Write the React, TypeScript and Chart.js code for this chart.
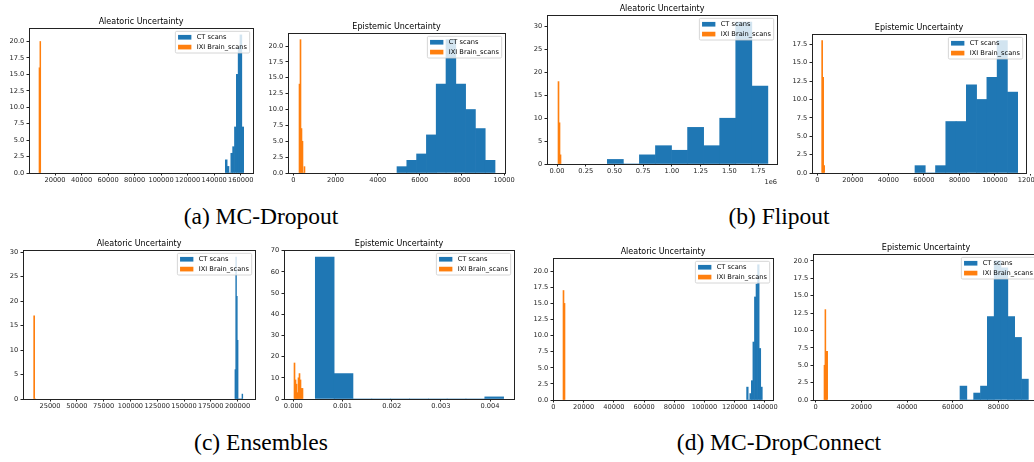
import React, { useEffect, useRef } from "react";
import { Chart, registerables } from "chart.js";

Chart.register(...registerables);

const BLUE = "#1f77b4";
const ORANGE = "#ff7f0e";
const SERIES = ["CT scans", "IXI Brain_scans"];
const TITLES = ["Aleatoric Uncertainty", "Epistemic Uncertainty"];
const CAPTIONS = ["(a) MC-Dropout", "(b) Flipout", "(c) Ensembles", "(d) MC-DropConnect"];

// ---- (a) MC-Dropout ----
const A_ALE_CT = [2, 1, 0, 3, 4, 7, 15, 19, 21, 7];
const A_ALE_CT_BINS = [148424, 1382]; // [first edge, bin width]
const A_ALE_IXI = [16, 20];
const A_ALE_IXI_BINS = [7937, 650];
const A_ALE_XTICKS = [20000, 40000, 60000, 80000, 100000, 120000, 140000, 160000];
const A_ALE_YTICKS = [0, 2.5, 5, 7.5, 10, 12.5, 15, 17.5, 20];

const A_EPI_CT = [1, 2, 3, 6, 14, 21, 14, 10, 7, 2];
const A_EPI_CT_BINS = [4917, 465];
const A_EPI_IXI = [14, 21, 7, 5, 0, 1];
const A_EPI_IXI_BINS = [269, 47];
const A_EPI_XTICKS = [0, 2000, 4000, 6000, 8000, 10000];
const A_EPI_YTICKS = [0, 2.5, 5, 7.5, 10, 12.5, 15, 17.5, 20];

// ---- (b) Flipout ----
const B_ALE_CT = [1, 0, 2, 4, 3, 8, 4, 10, 31, 17];
const B_ALE_CT_BINS = [437700, 139700];
const B_ALE_IXI = [18, 9, 2];
const B_ALE_IXI_BINS = [8700, 8700];
const B_ALE_XTICKS = [0, 250000, 500000, 750000, 1000000, 1250000, 1500000, 1750000];
const B_ALE_YTICKS = [0, 5, 10, 15, 20, 25, 30];

const B_EPI_CT = [1, 0, 1, 7, 7, 12, 10, 13, 18, 11];
const B_EPI_CT_BINS = [54970, 5779];
const B_EPI_IXI = [18, 13, 1];
const B_EPI_IXI_BINS = [2439, 563];
const B_EPI_XTICKS = [0, 20000, 40000, 60000, 80000, 100000, 120000];
const B_EPI_YTICKS = [0, 2.5, 5, 7.5, 10, 12.5, 15, 17.5];

// ---- (c) Ensembles ----
const C_ALE_CT = [6, 29, 21, 12, 0, 0, 0, 0, 0, 1];
const C_ALE_CT_BINS = [197513, 730];
const C_ALE_IXI = [17, 0];
const C_ALE_IXI_BINS = [9767, 933];
const C_ALE_XTICKS = [25000, 50000, 75000, 100000, 125000, 150000, 175000, 200000];
const C_ALE_YTICKS = [0, 5, 10, 15, 20, 25, 30];

const C_EPI_CT = [67, 12, 0, 0, 0, 0, 0, 0, 0, 1];
const C_EPI_CT_BINS = [0.000447, 0.000383];
const C_EPI_IXI = [17, 9, 7, 3, 10, 12, 9, 5, 5];
const C_EPI_IXI_BINS = [0.0000136, 0.0000203];
const C_EPI_XTICKS = [0, 0.001, 0.002, 0.003, 0.004];
const C_EPI_YTICKS = [0, 10, 20, 30, 40, 50, 60, 70];

// ---- (d) MC-DropConnect ----
const D_ALE_CT = [2, 0, 1, 3, 9, 16, 18, 21, 8, 2];
const D_ALE_CT_BINS = [127866, 1036];
const D_ALE_IXI = [17, 15];
const D_ALE_IXI_BINS = [6393, 660];
const D_ALE_XTICKS = [0, 20000, 40000, 60000, 80000, 100000, 120000, 140000];
const D_ALE_YTICKS = [0, 2.5, 5, 7.5, 10, 12.5, 15, 17.5, 20];

const D_EPI_CT = [2, 0, 1, 2, 12, 20, 19, 12, 9, 3];
const D_EPI_CT_BINS = [63212, 2993];
const D_EPI_IXI = [5, 13, 7, 7];
const D_EPI_IXI_BINS = [3650, 400];
const D_EPI_XTICKS = [0, 20000, 40000, 60000, 80000];
const D_EPI_YTICKS = [0, 2.5, 5, 7.5, 10, 12.5, 15, 17.5, 20];

type Fmt = "int" | "mega" | "fix3";

interface PlotCfg {
  title: string;
  ct: number[];
  ctBins: number[];
  ixi: number[];
  ixiBins: number[];
  xTicks: number[];
  yTicks: number[];
  xRange: number[];
  yMax: number;
  xFmt: Fmt;
  yDec: number;
  offsetText?: string;
  box: { L: number; R: number; T: number; B: number };
}

const PLOTS: PlotCfg[] = [
  { title: TITLES[0], ct: A_ALE_CT, ctBins: A_ALE_CT_BINS, ixi: A_ALE_IXI, ixiBins: A_ALE_IXI_BINS,
    xTicks: A_ALE_XTICKS, yTicks: A_ALE_YTICKS, xRange: [395, 169297], yMax: 22.05, xFmt: "int", yDec: 1,
    box: { L: 29, R: 253, T: 28, B: 173 } },
  { title: TITLES[1], ct: A_EPI_CT, ctBins: A_EPI_CT_BINS, ixi: A_EPI_IXI, ixiBins: A_EPI_IXI_BINS,
    xTicks: A_EPI_XTICKS, yTicks: A_EPI_YTICKS, xRange: [-253, 10040], yMax: 22.05, xFmt: "int", yDec: 1,
    box: { L: 288, R: 505, T: 33, B: 173 } },
  { title: TITLES[0], ct: B_ALE_CT, ctBins: B_ALE_CT_BINS, ixi: B_ALE_IXI, ixiBins: B_ALE_IXI_BINS,
    xTicks: B_ALE_XTICKS, yTicks: B_ALE_YTICKS, xRange: [-87010, 1914200], yMax: 32.55, xFmt: "mega", yDec: 0,
    offsetText: "1e6", box: { L: 547, R: 777, T: 15, B: 164 } },
  { title: TITLES[1], ct: B_EPI_CT, ctBins: B_EPI_CT_BINS, ixi: B_EPI_IXI, ixiBins: B_EPI_IXI_BINS,
    xTicks: B_EPI_XTICKS, yTicks: B_EPI_YTICKS, xRange: [-3000, 117450], yMax: 18.9, xFmt: "int", yDec: 1,
    box: { L: 812, R: 1026, T: 34, B: 173 } },
  { title: TITLES[0], ct: C_ALE_CT, ctBins: C_ALE_CT_BINS, ixi: C_ALE_IXI, ixiBins: C_ALE_IXI_BINS,
    xTicks: C_ALE_XTICKS, yTicks: C_ALE_YTICKS, xRange: [-187, 216231], yMax: 30.45, xFmt: "int", yDec: 0,
    box: { L: 23, R: 255, T: 250, B: 399 } },
  { title: TITLES[1], ct: C_EPI_CT, ctBins: C_EPI_CT_BINS, ixi: C_EPI_IXI, ixiBins: C_EPI_IXI_BINS,
    xTicks: C_EPI_XTICKS, yTicks: C_EPI_YTICKS, xRange: [-0.0001898, 0.004488], yMax: 70.35, xFmt: "fix3", yDec: 0,
    box: { L: 284, R: 514, T: 250, B: 399 } },
  { title: TITLES[0], ct: D_ALE_CT, ctBins: D_ALE_CT_BINS, ixi: D_ALE_IXI, ixiBins: D_ALE_IXI_BINS,
    xTicks: D_ALE_XTICKS, yTicks: D_ALE_YTICKS, xRange: [-220, 145313], yMax: 22.05, xFmt: "int", yDec: 1,
    box: { L: 553, R: 773, T: 258, B: 400 } },
  { title: TITLES[1], ct: D_EPI_CT, ctBins: D_EPI_CT_BINS, ixi: D_EPI_IXI, ixiBins: D_EPI_IXI_BINS,
    xTicks: D_EPI_XTICKS, yTicks: D_EPI_YTICKS, xRange: [-1169, 97810], yMax: 21, xFmt: "int", yDec: 1,
    box: { L: 813, R: 1039, T: 254, B: 400 } },
];

const CAPTION_POS = [
  { cx: 261, top: 205 },
  { cx: 779, top: 205 },
  { cx: 261, top: 431 },
  { cx: 779, top: 431 },
];

const FONT = '"DejaVu Sans", sans-serif';
const FS = 6.67;
const INK = "#222";
const PAD = { L: 40, R: 26, T: 18, B: 26 };

const fmtX = (fmt: Fmt, v: number) =>
  fmt === "mega" ? (v / 1e6).toFixed(2) : fmt === "fix3" ? v.toFixed(3) : String(Math.round(v));

const histPoints = (counts: number[], bins: number[]) =>
  counts.map((c, i) => ({ x: bins[0] + (i + 0.5) * bins[1], y: c }));

const mplPlugin = {
  id: "mpl",
  afterDatasetsDraw(chart: any, _args: any, opts: any) {
    const { ctx, chartArea: a } = chart;
    ctx.save();
    // frame (spines)
    ctx.strokeStyle = INK;
    ctx.lineWidth = 1;
    ctx.strokeRect(a.left + 0.5, a.top + 0.5, a.right - a.left, a.bottom - a.top);
    // title
    ctx.fillStyle = "#000";
    ctx.font = `8px ${FONT}`;
    ctx.textAlign = "center";
    ctx.textBaseline = "alphabetic";
    ctx.fillText(opts.title, (a.left + a.right) / 2, a.top - 4);
    // offset text
    if (opts.offsetText) {
      ctx.font = `${FS}px ${FONT}`;
      ctx.fillStyle = INK;
      ctx.textAlign = "right";
      ctx.fillText(opts.offsetText, a.right, a.bottom + 20);
    }
    // legend (matplotlib style, upper right)
    ctx.font = `${FS}px ${FONT}`;
    const items = chart.data.datasets.map((d: any) => ({ label: d.label, color: d.backgroundColor }));
    const tw = Math.max(...items.map((it: any) => ctx.measureText(it.label).width));
    const bp = 0.4 * FS;
    const rowH = 6.5;
    const sp = 0.5 * FS;
    const bw = 2 * bp + 2 * FS + 0.8 * FS + tw;
    const bh = 2 * bp + items.length * rowH + (items.length - 1) * sp;
    const bx = a.right - 0.5 * FS - bw;
    const by = a.top + 0.5 * FS;
    ctx.beginPath();
    if (ctx.roundRect) ctx.roundRect(bx, by, bw, bh, 0.2 * FS);
    else ctx.rect(bx, by, bw, bh);
    ctx.fillStyle = "rgba(255,255,255,0.8)";
    ctx.fill();
    ctx.strokeStyle = "#cccccc";
    ctx.lineWidth = 0.8;
    ctx.stroke();
    items.forEach((it: any, i: number) => {
      const cy = by + bp + i * (rowH + sp) + rowH / 2;
      ctx.fillStyle = it.color;
      ctx.fillRect(bx + bp, cy - 0.35 * FS, 2 * FS, 0.7 * FS);
      ctx.fillStyle = "#000";
      ctx.textAlign = "left";
      ctx.textBaseline = "middle";
      ctx.fillText(it.label, bx + bp + 2.8 * FS, cy + 0.3);
    });
    ctx.restore();
  },
};

function Plot({ p }: { p: PlotCfg }) {
  const ref = useRef<HTMLCanvasElement | null>(null);
  const W = p.box.R - p.box.L + PAD.L + PAD.R;
  const H = p.box.B - p.box.T + PAD.T + PAD.B;

  useEffect(() => {
    const canvas = ref.current!;
    canvas.width = W;
    canvas.height = H;
    const tickFont = { family: FONT, size: FS };
    const xTickObjs = p.xTicks.map((v) => ({ value: v }));
    const chart = new Chart(canvas, {
      type: "bar",
      data: {
        datasets: [
          {
            label: SERIES[0],
            data: histPoints(p.ct, p.ctBins),
            xAxisID: "x",
            backgroundColor: BLUE,
            borderWidth: 0,
            barPercentage: 1,
            categoryPercentage: 1,
            grouped: false,
          } as any,
          {
            label: SERIES[1],
            data: histPoints(p.ixi, p.ixiBins),
            xAxisID: "x2",
            backgroundColor: ORANGE,
            borderWidth: 0,
            barPercentage: 1,
            categoryPercentage: 1,
            grouped: false,
          } as any,
        ],
      },
      options: {
        animation: false,
        responsive: false,
        devicePixelRatio: 1,
        events: [],
        layout: { padding: { left: 0, right: PAD.R, top: PAD.T, bottom: 0 }, autoPadding: false } as any,
        plugins: {
          legend: { display: false },
          tooltip: { enabled: false },
          title: { display: false },
          mpl: { title: p.title, offsetText: p.offsetText },
        } as any,
        scales: {
          x: {
            type: "linear",
            position: "bottom",
            min: p.xRange[0],
            max: p.xRange[1],
            offset: false,
            grid: {
              display: true,
              drawOnChartArea: false,
              drawTicks: true,
              tickLength: 2.5,
              tickColor: INK,
              tickWidth: 1,
              offset: false,
            },
            border: { display: true, color: INK, width: 1 },
            ticks: {
              autoSkip: false,
              maxRotation: 0,
              minRotation: 0,
              padding: 1,
              color: INK,
              font: tickFont,
              callback: (v: any) => fmtX(p.xFmt, Number(v)),
            },
            afterBuildTicks: (axis: any) => {
              axis.ticks = xTickObjs.map((t) => ({ ...t }));
            },
            afterFit: (axis: any) => {
              axis.height = PAD.B;
              axis.paddingLeft = 0;
              axis.paddingRight = 0;
            },
          },
          x2: {
            type: "linear",
            position: "bottom",
            display: false,
            min: p.xRange[0],
            max: p.xRange[1],
            offset: false,
            grid: { offset: false },
            afterBuildTicks: (axis: any) => {
              axis.ticks = xTickObjs.map((t) => ({ ...t }));
            },
          },
          y: {
            type: "linear",
            position: "left",
            min: 0,
            max: p.yMax,
            grid: {
              display: true,
              drawOnChartArea: false,
              drawTicks: true,
              tickLength: 2.5,
              tickColor: INK,
              tickWidth: 1,
            },
            border: { display: true, color: INK, width: 1 },
            ticks: {
              autoSkip: false,
              padding: 2.2,
              color: INK,
              font: tickFont,
              callback: (v: any) => Number(v).toFixed(p.yDec),
            },
            afterBuildTicks: (axis: any) => {
              axis.ticks = p.yTicks.map((v) => ({ value: v }));
            },
            afterFit: (axis: any) => {
              axis.width = PAD.L;
              axis.paddingTop = 0;
              axis.paddingBottom = 0;
            },
          },
        } as any,
      },
      plugins: [mplPlugin as any],
    });
    return () => chart.destroy();
  }, []);

  return (
    <canvas
      ref={ref}
      width={W}
      height={H}
      style={{
        position: "absolute",
        left: p.box.L - PAD.L,
        top: p.box.T - PAD.T,
        width: W,
        height: H,
      }}
    />
  );
}

export default function App() {
  return (
    <div
      style={{
        position: "fixed",
        left: 0,
        top: 0,
        width: 1034,
        height: 462,
        overflow: "hidden",
        background: "#ffffff",
      }}
    >
      {PLOTS.map((p, i) => (
        <Plot key={i} p={p} />
      ))}
      {CAPTIONS.map((c, i) => (
        <div
          key={c}
          style={{
            position: "absolute",
            left: CAPTION_POS[i].cx - 150,
            top: CAPTION_POS[i].top,
            width: 300,
            textAlign: "center",
            fontFamily: '"Liberation Serif", "Times New Roman", serif',
            fontSize: 23.5,
            lineHeight: "23.5px",
            color: "#000",
            whiteSpace: "nowrap",
          }}
        >
          {c}
        </div>
      ))}
    </div>
  );
}
